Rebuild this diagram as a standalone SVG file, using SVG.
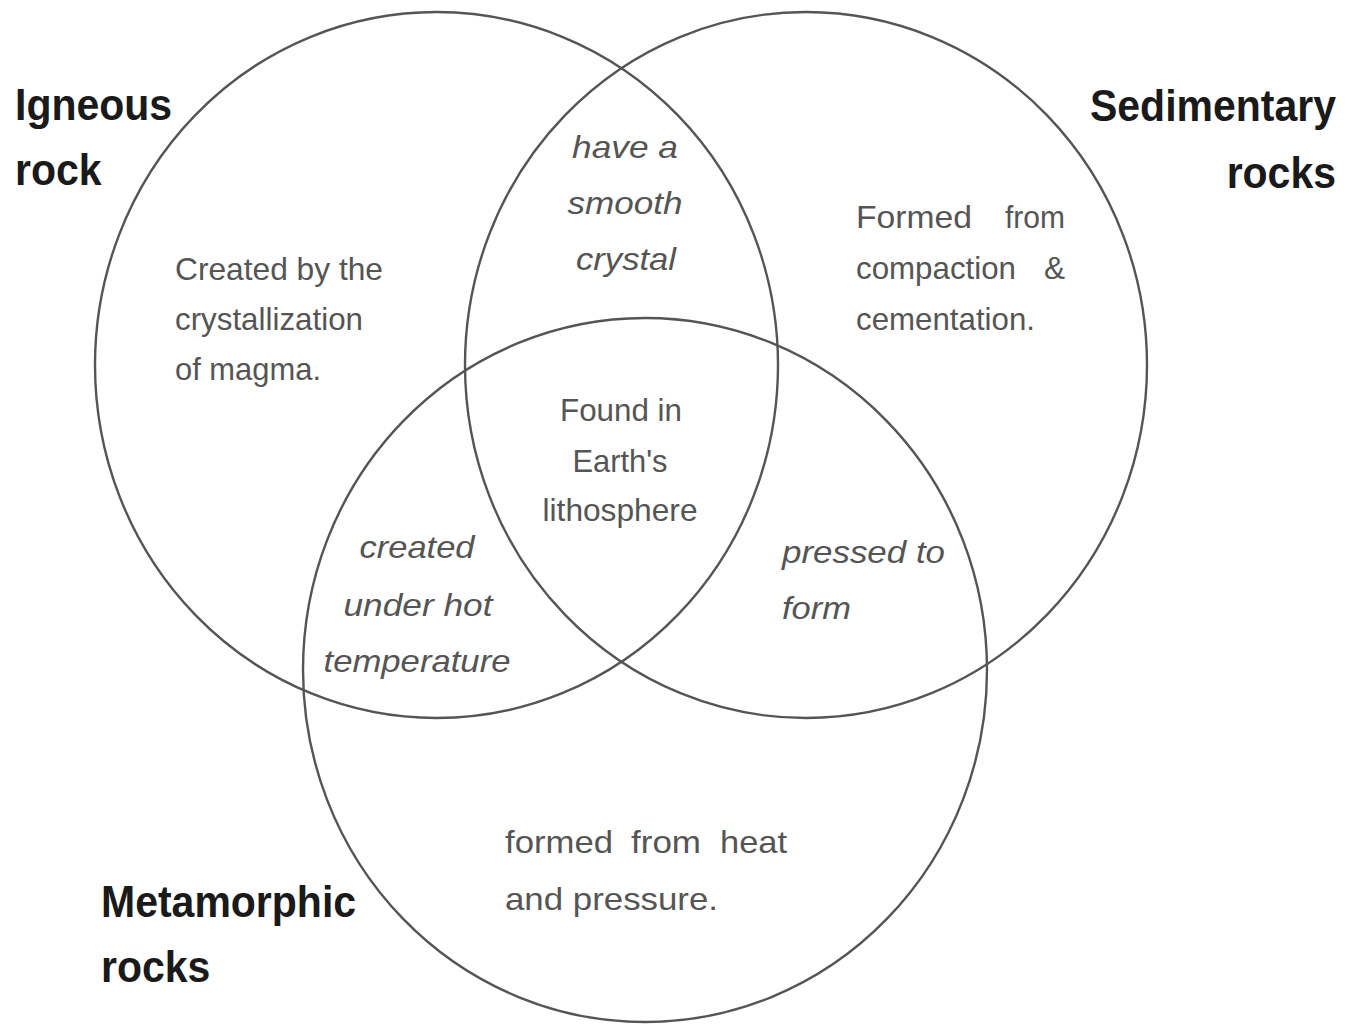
<svg xmlns="http://www.w3.org/2000/svg" width="1346" height="1024" viewBox="0 0 1346 1024">
<style>
.ring{fill:none;stroke:#555;stroke-width:2.4}
.lab{font-family:"Liberation Sans",Arial,sans-serif;font-weight:bold;font-size:41px;fill:#1a1a1a}
.txt{font-family:"Liberation Sans",Arial,sans-serif;font-size:32px;fill:#555}
.it{font-style:italic}
</style>
<rect width="1346" height="1024" fill="#fff"/>
<g id="connectors"></g>
<g id="igneous">
<ellipse class="ring" cx="436.5" cy="365" rx="341.5" ry="353"/>
<text class="lab" transform="matrix(1,0,0,1.08,15,120)">Igneous</text>
<text class="lab" transform="matrix(1,0,0,1.08,15,185)">rock</text>
<text class="txt" x="175" y="280" textLength="208" lengthAdjust="spacingAndGlyphs">Created by the</text>
<text class="txt" x="175" y="330" textLength="188" lengthAdjust="spacingAndGlyphs">crystallization</text>
<text class="txt" x="175" y="380" textLength="146" lengthAdjust="spacingAndGlyphs">of magma.</text>
</g>
<g id="sedimentary">
<ellipse class="ring" cx="806" cy="365" rx="341" ry="353"/>
<text class="lab" text-anchor="end" transform="matrix(1,0,0,1.08,1336,121)">Sedimentary</text>
<text class="lab" text-anchor="end" transform="matrix(1,0,0,1.08,1336,188)">rocks</text>
<text class="txt" x="856" y="228" textLength="116" lengthAdjust="spacingAndGlyphs">Formed</text>
<text class="txt" x="1005" y="228" textLength="60" lengthAdjust="spacingAndGlyphs">from</text>
<text class="txt" x="856" y="279" textLength="160" lengthAdjust="spacingAndGlyphs">compaction</text>
<text class="txt" x="1044" y="279" textLength="21" lengthAdjust="spacingAndGlyphs">&amp;</text>
<text class="txt" x="856" y="330" textLength="179" lengthAdjust="spacingAndGlyphs">cementation.</text>
</g>
<g id="metamorphic">
<ellipse class="ring" cx="645" cy="670" rx="342" ry="352"/>
<text class="lab" transform="matrix(1,0,0,1.08,101,917)">Metamorphic</text>
<text class="lab" transform="matrix(1,0,0,1.08,101,982)">rocks</text>
<text class="txt" x="505" y="853" textLength="108" lengthAdjust="spacingAndGlyphs">formed</text>
<text class="txt" x="631" y="853" textLength="70" lengthAdjust="spacingAndGlyphs">from</text>
<text class="txt" x="720" y="853" textLength="67" lengthAdjust="spacingAndGlyphs">heat</text>
<text class="txt" x="505" y="910" textLength="213" lengthAdjust="spacingAndGlyphs">and pressure.</text>
</g>
<g id="igneous-sedimentary">
<text class="txt it" x="625" y="158" text-anchor="middle" textLength="106" lengthAdjust="spacingAndGlyphs">have a</text>
<text class="txt it" x="625" y="214" text-anchor="middle" textLength="115" lengthAdjust="spacingAndGlyphs">smooth</text>
<text class="txt it" x="626" y="270" text-anchor="middle" textLength="100" lengthAdjust="spacingAndGlyphs">crystal</text>
</g>
<g id="all-three">
<text class="txt" x="621" y="421" text-anchor="middle" textLength="122" lengthAdjust="spacingAndGlyphs">Found in</text>
<text class="txt" x="620" y="472" text-anchor="middle" textLength="95" lengthAdjust="spacingAndGlyphs">Earth's</text>
<text class="txt" x="620" y="521" text-anchor="middle" textLength="155" lengthAdjust="spacingAndGlyphs">lithosphere</text>
</g>
<g id="igneous-metamorphic">
<text class="txt it" x="417" y="558" text-anchor="middle" textLength="115" lengthAdjust="spacingAndGlyphs">created</text>
<text class="txt it" x="418" y="616" text-anchor="middle" textLength="149" lengthAdjust="spacingAndGlyphs">under hot</text>
<text class="txt it" x="417" y="672" text-anchor="middle" textLength="187" lengthAdjust="spacingAndGlyphs">temperature</text>
</g>
<g id="sedimentary-metamorphic">
<text class="txt it" x="782" y="563" textLength="163" lengthAdjust="spacingAndGlyphs">pressed to</text>
<text class="txt it" x="782" y="619" textLength="69" lengthAdjust="spacingAndGlyphs">form</text>
</g>
</svg>
